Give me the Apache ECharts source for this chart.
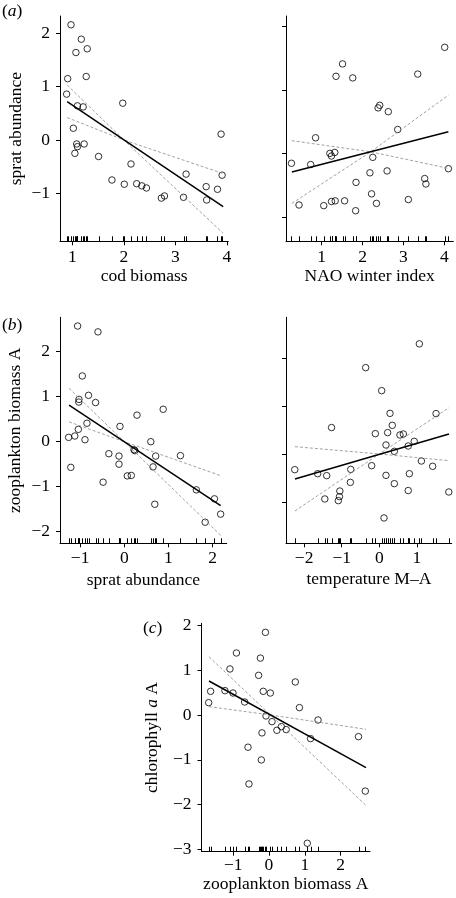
<!DOCTYPE html>
<html><head><meta charset="utf-8">
<script src="https://cdn.jsdelivr.net/npm/echarts@6/dist/echarts.min.js"></script>
<style>html,body{margin:0;padding:0;background:#fff}#c{width:456px;height:898px}</style>
</head><body><div id="c"></div>
<script>
// ---------- data ----------
// (a) left: sprat abundance vs cod biomass
const codBiomass = [0.975,1.175,1.07,1.29,0.91,1.27,0.89,1.10,1.21,1.98,1.02,1.085,1.10,1.05,1.23,1.51,1.77,2.01,2.14,2.25,2.35,2.44,2.73,2.79,3.16,3.21,3.60,3.61,3.82,3.89,3.91];
const spratVsCod = [2.16,1.89,1.64,1.71,1.15,1.19,0.86,0.64,0.62,0.69,0.22,-0.075,-0.125,-0.25,-0.075,-0.31,-0.75,-0.83,-0.45,-0.82,-0.86,-0.90,-1.09,-1.05,-1.075,-0.64,-0.875,-1.125,-0.925,0.11,-0.66];
const codFit = [[0.9,0.72],[3.93,-1.25]];
const codBandUpper = [[0.9,1.03],[2.0,0.0],[3.93,-0.63]];
const codBandLower = [[0.9,0.42],[2.0,0.0],[3.93,-1.75]];

// (a) right: sprat abundance vs NAO winter index
const naoIndex = [4.01,1.51,1.35,1.76,3.35,2.38,2.42,2.63,2.86,0.85,1.20,1.24,1.32,2.25,0.26,0.73,2.18,2.60,4.10,3.52,3.55,1.84,2.22,0.445,1.05,1.24,1.33,1.56,2.34,3.12,1.83];
const spratVsNao = [1.67,1.41,1.215,1.19,1.25,0.72,0.76,0.66,0.38,0.25,0.005,-0.036,0.02,-0.057,-0.15,-0.17,-0.30,-0.27,-0.235,-0.39,-0.475,-0.45,-0.63,-0.805,-0.815,-0.75,-0.74,-0.74,-0.78,-0.72,-0.895];
const naoFit = [[0.27,-0.287],[4.10,0.345]];
const naoBandUpper = [[0.27,0.205],[2.2,0.03],[4.10,-0.23]];
const naoBandLower = [[0.27,-0.78],[2.2,0.03],[4.10,0.92]];

// (b) left: zooplankton biomass A vs sprat abundance
const spratAbund = [-1.056,-0.596,-0.95,-1.026,-1.03,-0.81,-0.65,0.287,0.88,-1.26,-1.12,-1.04,-0.845,-0.89,-0.098,-1.21,-0.35,-0.12,-0.12,-0.48,0.068,0.158,0.24,0.22,0.60,0.65,0.71,1.27,0.69,1.63,2.04,1.83,2.18];
const zooVsSprat = [2.57,2.44,1.46,0.94,0.88,1.03,0.87,0.59,0.72,0.096,0.126,0.274,0.41,0.044,0.34,-0.57,-0.267,-0.32,-0.50,-0.90,-0.76,-0.75,-0.20,-0.18,0.0,-0.56,-0.32,-0.31,-1.39,-1.07,-1.27,-1.79,-1.61];
const spratFit = [[-1.25,0.815],[2.18,-1.42]];
const spratBandUpper = [[-1.25,1.185],[0,0],[2.18,-0.755]];
const spratBandLower = [[-1.25,0.44],[0,0],[2.18,-2.08]];

// (b) right: zooplankton biomass A vs temperature M-A
const tempMA = [1.066,-0.363,0.063,0.285,1.51,-1.27,0.346,-0.106,0.222,0.55,0.64,0.93,0.178,0.77,0.40,-2.25,-1.64,-1.40,-0.76,-0.203,1.12,1.42,0.178,0.80,-0.77,0.40,-1.05,-1.06,-1.09,-1.45,0.77,1.85,0.125];
const zooVsTemp = [2.29,1.795,1.317,0.845,0.84,0.55,0.596,0.423,0.444,0.395,0.416,0.263,0.187,0.166,0.055,-0.326,-0.41,-0.45,-0.32,-0.243,-0.146,-0.256,-0.444,-0.41,-0.59,-0.617,-0.77,-0.887,-0.97,-0.935,-0.76,-0.79,-1.33];
const tempFit = [[-2.245,-0.52],[1.855,0.416]];
const tempBandUpper = [[-2.245,0.152],[0,0],[1.855,-0.139]];
const tempBandLower = [[-2.245,-1.185],[0,0],[1.855,0.963]];

// (c): chlorophyll a A vs zooplankton biomass A
const zooBiomass = [-0.10,-0.91,-0.24,-1.09,-0.29,0.735,-1.63,-1.23,-1.006,-0.16,0.037,-1.685,-0.68,0.85,-0.084,0.084,1.37,0.345,0.22,0.48,-0.196,1.16,2.50,-0.587,-0.214,-0.56,2.69,1.07];
const chlVsZoo = [1.845,1.384,1.27,1.027,0.885,0.737,0.528,0.543,0.49,0.528,0.49,0.275,0.29,0.164,-0.022,-0.149,-0.112,-0.26,-0.342,-0.327,-0.40,-0.528,-0.484,-0.72,-1.004,-1.54,-1.70,-2.865];
const zooFit = [[-1.676,0.759],[2.71,-1.176]];
const zooBandUpper = [[-1.676,1.30],[0.04,0.0],[2.71,-0.32]];
const zooBandLower = [[-1.676,0.186],[0.04,0.0],[2.71,-2.02]];

// tick values
const ticksCodX = [1,2,3,4], ticksCodY = [-1,0,1,2];
const ticksNaoX = [1,2,3,4], ticksNaoY = [-1,0,1,2];
const ticksSpratX = [-1,0,1,2], ticksSpratY = [-2,-1,0,1,2];
const ticksTempX = [-2,-1,0,1], ticksTempY = [-1,0,1,2];
const ticksZooX = [-1,0,1,2], ticksZooY = [-3,-2,-1,0,1,2];

// ---------- layout / style ----------
const FONT = "'Liberation Serif','Times New Roman',serif";
const FS = 17.5;
const minus = v => String(v).replace('-', '\u2212');

const panels = [
  {x: codBiomass, y: spratVsCod, fit: codFit, b1: codBandUpper, b2: codBandLower,
   grid: {left: 60, top: 16, width: 168.3, height: 225.3}, xr: [0.761, 4.03], yr: [-1.90, 2.325],
   xt: ticksCodX, yt: ticksCodY, yLabels: true, xName: 'cod biomass', yName: 'sprat abundance', xGap: 26, yGap: 35, xMargin: 7},
  {x: naoIndex, y: spratVsNao, fit: naoFit, b1: naoBandUpper, b2: naoBandLower,
   grid: {left: 286, top: 16, width: 167.3, height: 225.3}, xr: [0.1265, 4.22], yr: [-1.375, 2.162],
   xt: ticksNaoX, yt: ticksNaoY, yLabels: false, xName: 'NAO winter index', yName: '', xGap: 26, yGap: 35, xMargin: 7},
  {x: spratAbund, y: zooVsSprat, fit: spratFit, b1: spratBandUpper, b2: spratBandLower,
   grid: {left: 60, top: 317.3, width: 166.7, height: 226}, xr: [-1.455, 2.317], yr: [-2.258, 2.764],
   xt: ticksSpratX, yt: ticksSpratY, yLabels: true, xName: 'sprat abundance', yName: 'zooplankton biomass A', xGap: 28, yGap: 36, xMargin: 6.5},
  {x: tempMA, y: zooVsTemp, fit: tempFit, b1: tempBandUpper, b2: tempBandLower,
   grid: {left: 286, top: 317.3, width: 165.7, height: 226}, xr: [-2.483, 1.927], yr: [-1.857, 2.842],
   xt: ticksTempX, yt: ticksTempY, yLabels: false, xName: 'temperature M\u2013A', yName: '', xGap: 27, yGap: 35, xMargin: 6.5},
  {x: zooBiomass, y: chlVsZoo, fit: zooFit, b1: zooBandUpper, b2: zooBandLower,
   grid: {left: 201.5, top: 623.3, width: 168.5, height: 228.4}, xr: [-1.885, 2.821], yr: [-3.053, 2.047],
   xt: ticksZooX, yt: ticksZooY, yLabels: true, xName: 'zooplankton biomass A', yName: 'chlorophyll {i|a} A', xGap: 22, yGap: 40, xMargin: 5}
];

const txt = {color: '#000', fontFamily: FONT, fontSize: FS};
const option = {animation: false, backgroundColor: '#fff', grid: [], xAxis: [], yAxis: [], series: [], graphic: []};

panels.forEach((p, i) => {
  option.grid.push(Object.assign({}, p.grid));
  option.xAxis.push({
    type: 'value', gridIndex: i, min: p.xr[0], max: p.xr[1],
    splitLine: {show: false},
    axisLine: {onZero: false, lineStyle: {color: '#000', width: 1}},
    axisTick: {customValues: p.xt, length: 4, lineStyle: {color: '#000', width: 1}},
    axisLabel: Object.assign({customValues: p.xt, formatter: minus, margin: p.xMargin}, txt),
    name: p.xName, nameLocation: 'middle', nameGap: p.xGap, nameTextStyle: Object.assign({}, txt)
  });
  option.yAxis.push({
    type: 'value', gridIndex: i, min: p.yr[0], max: p.yr[1],
    splitLine: {show: false},
    axisLine: {onZero: false, lineStyle: {color: '#000', width: 1}},
    axisTick: {customValues: p.yt, length: 4, lineStyle: {color: '#000', width: 1}},
    axisLabel: Object.assign({show: p.yLabels, customValues: p.yt, formatter: minus, margin: 10}, txt),
    name: p.yName, nameLocation: 'middle', nameGap: p.yGap,
    nameTextStyle: Object.assign({rich: {i: Object.assign({fontStyle: 'italic'}, txt)}}, txt)
  });
  const ax = {xAxisIndex: i, yAxisIndex: i};
  // confidence bands
  [p.b1, p.b2].forEach(b => option.series.push(Object.assign({
    type: 'line', data: b, symbol: 'none', silent: true,
    lineStyle: {color: '#8a8a8a', width: 0.8, type: [3, 2]}
  }, ax)));
  // fitted line
  option.series.push(Object.assign({
    type: 'line', data: p.fit, symbol: 'none', silent: true,
    lineStyle: {color: '#000', width: 1.5}
  }, ax));
  // points
  option.series.push(Object.assign({
    type: 'scatter', data: p.x.map((v, k) => [v, p.y[k]]), symbol: 'circle', symbolSize: 6.5,
    itemStyle: {color: 'rgba(255,255,255,0)', borderColor: '#000', borderWidth: 1}
  }, ax));
  // rug
  option.series.push(Object.assign({
    type: 'custom', data: p.x.map(v => [v, 0]), encode: {x: 0, y: 1}, silent: true,
    renderItem: (params, api) => {
      const cs = params.coordSys;
      const px = Math.round(api.coord([api.value(0), 0])[0]) + 0.5;
      const yb = cs.y + cs.height;
      return {type: 'line', shape: {x1: px, y1: yb, x2: px, y2: yb - 5},
              style: {stroke: '#000', lineWidth: 1}};
    }
  }, ax));
});

const panelLabel = (letter, left, top) => ({
  type: 'text', left: left, top: top,
  style: {text: '({i|' + letter + '})', fill: '#000', font: FS + 'px ' + FONT,
          rich: {i: {fontStyle: 'italic', fontFamily: FONT, fontSize: FS, fill: '#000'}}}
});
option.graphic = [panelLabel('a', 2, 2), panelLabel('b', 2, 316), panelLabel('c', 143, 619)];

const chart = echarts.init(document.getElementById('c'), null, {renderer: 'canvas'});
chart.setOption(option);
</script></body></html>
